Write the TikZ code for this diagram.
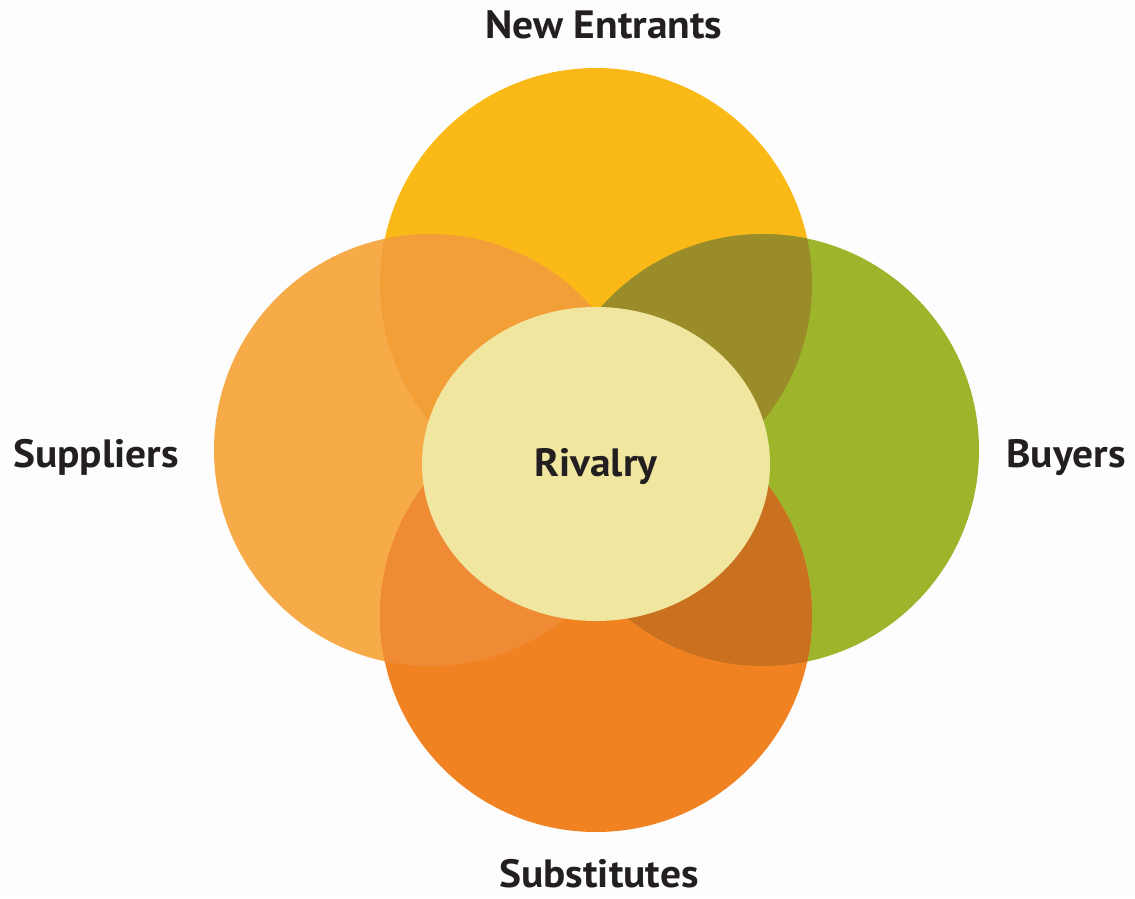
\documentclass[tikz,border=0pt]{standalone}
\usepackage{fontspec}
\setmainfont{PT Sans}
\newfontfamily\lblfont[FakeStretch=1.05]{PT Sans}
\usetikzlibrary{shapes.geometric}
\definecolor{bgc}{HTML}{FDFDFD}
\definecolor{yel}{HTML}{FBB918}
\definecolor{yelrim}{HTML}{F9C81C}
\definecolor{sup}{HTML}{F6AB48}
\definecolor{supyel}{HTML}{F29F37}
\definecolor{grn}{HTML}{9DB42B}
\definecolor{grnyel}{HTML}{9B8C2A}
\definecolor{sub}{HTML}{F08222}
\definecolor{subsup}{HTML}{EF8B35}
\definecolor{subgrn}{HTML}{C9711F}
\definecolor{riv}{HTML}{F1E6A0}
\definecolor{txt}{HTML}{231F20}
\begin{document}
\begin{tikzpicture}[x=1pt,y=-1pt,
  lbl/.style={font=\lblfont\bfseries\fontsize{39.5}{42}\selectfont, text=txt, anchor=base, inner sep=0pt}]
\useasboundingbox[fill=bgc] (0,0) rectangle (1135,898);
\coordinate (Y) at (596,284);
\coordinate (S) at (430,450);
\coordinate (B) at (763,450);
\coordinate (U) at (596,616);
% base circles
\fill[yel] (Y) circle[radius=216];
\draw[yelrim, line width=3pt] (Y) ++(150:214) arc[start angle=150, end angle=30, radius=214];
\fill[sup] (S) circle[radius=216];
\begin{scope}\clip (Y) circle[radius=216]; \fill[supyel] (S) circle[radius=216]; \end{scope}
\fill[grn] (B) circle[radius=216];
\begin{scope}\clip (Y) circle[radius=216]; \fill[grnyel] (B) circle[radius=216]; \end{scope}
\fill[sub] (U) circle[radius=216];
\begin{scope}\clip (S) circle[radius=216]; \fill[subsup] (U) circle[radius=216]; \end{scope}
\begin{scope}\clip (B) circle[radius=216]; \fill[subgrn] (U) circle[radius=216]; \end{scope}
\node[ellipse, fill=riv, minimum width=348pt, minimum height=314pt, inner sep=0pt] (riv) at (596,464) {};
\node[lbl] (rivt) at (596,476) {Rivalry};
\node[lbl] (ne) at (604,38) {New Entrants};
\node[lbl] (su) at (96,467) {Suppliers};
\node[lbl] (bu) at (1066,467) {Buyers};
\node[lbl] (sb) at (599,887) {Substitutes};
\end{tikzpicture}
\end{document}
